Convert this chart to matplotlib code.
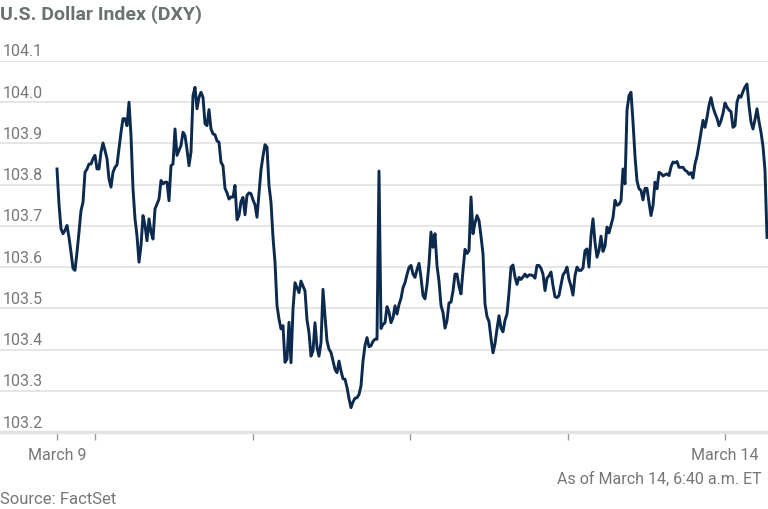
import numpy as np
import matplotlib
matplotlib.use("Agg")
import matplotlib.pyplot as plt
import matplotlib.transforms as mtransforms

# U.S. Dollar Index (DXY), intraday readings, March 9 to March 14
dxy = [
    # March 9 session
    103.838, 103.753, 103.693, 103.681, 103.689, 103.701, 103.672, 103.636, 103.597, 103.592,
    103.636, 103.685, 103.737, 103.757, 103.830, 103.838, 103.850, 103.850, 103.863, 103.871,
    103.838, 103.838, 103.879, 103.901, 103.883, 103.863, 103.814, 103.794, 103.830, 103.842,
    103.848, 103.887, 103.927, 103.960, 103.960, 103.943, 104.000, 103.919, 103.790, 103.717,
    103.676, 103.612, 103.652, 103.725, 103.701, 103.664, 103.717, 103.685, 103.668, 103.741,
    103.753, 103.765, 103.810, 103.802, 103.806, 103.806, 103.761, 103.846, 103.850, 103.935,
    103.871, 103.883,
    103.895, 103.927, 103.919, 103.885, 103.846, 103.879, 104.016, 104.036, 103.984, 104.012,
    104.024, 104.012, 103.948, 103.943, 103.982, 103.935, 103.923, 103.921, 103.906, 103.903,
    103.854, 103.846, 103.791, 103.780, 103.765, 103.770, 103.770, 103.798, 103.715, 103.725,
    103.759, 103.769, 103.727, 103.774, 103.780, 103.778, 103.763, 103.751, 103.721, 103.780,
    103.836, 103.869, 103.897, 103.891, 103.798, 103.757, 103.672, 103.612, 103.507, 103.474,
    103.450, 103.458, 103.369, 103.377, 103.466,
    # March 10 session
    103.368, 103.498, 103.562, 103.550, 103.538, 103.566, 103.554, 103.542, 103.472, 103.441,
    103.384, 103.397, 103.465, 103.405, 103.384, 103.417, 103.546, 103.481, 103.421, 103.401,
    103.393, 103.372, 103.352, 103.344, 103.372, 103.348, 103.329, 103.328, 103.308, 103.281,
    103.259, 103.273, 103.282, 103.283, 103.291, 103.312, 103.372, 103.410, 103.429, 103.407,
    103.409, 103.420, 103.425, 103.425, 103.833, 103.451, 103.461, 103.465, 103.504, 103.491,
    103.465, 103.477, 103.506, 103.486, 103.509, 103.524, 103.550, 103.562, 103.582, 103.599,
    # March 13 session
    103.604, 103.583, 103.575, 103.594, 103.609, 103.575, 103.531, 103.523, 103.557, 103.608,
    103.685, 103.648, 103.681, 103.604, 103.565, 103.507, 103.490, 103.452, 103.470, 103.513,
    103.515, 103.542, 103.583, 103.583, 103.553, 103.535, 103.592, 103.643, 103.633, 103.640,
    103.770, 103.681, 103.707, 103.725, 103.713, 103.675, 103.632, 103.511, 103.480, 103.468,
    103.427, 103.392, 103.414, 103.450, 103.482, 103.452, 103.443, 103.471, 103.486, 103.537,
    103.600, 103.605, 103.576, 103.558, 103.575, 103.570, 103.576, 103.583, 103.576, 103.581,
    103.581, 103.579, 103.573, 103.604, 103.604, 103.597, 103.583, 103.543, 103.573, 103.579,
    103.588, 103.555, 103.528, 103.526, 103.531, 103.557, 103.581, 103.588, 103.600, 103.570,
    103.554, 103.532, 103.579, 103.600, 103.592, 103.592, 103.598, 103.640, 103.644, 103.600,
    103.676, 103.717, 103.660, 103.624, 103.640, 103.675, 103.638, 103.651, 103.697, 103.683,
    103.702, 103.720, 103.762, 103.750, 103.752, 103.761, 103.838, 103.802, 103.980, 104.016,
    104.024, 103.952, 103.869, 103.809, 103.790, 103.786, 103.763, 103.791, 103.791, 103.757,
    # March 14 session
    103.725, 103.749, 103.806, 103.790, 103.830, 103.827, 103.821, 103.824, 103.826, 103.822,
    103.843, 103.855, 103.853, 103.856, 103.842, 103.842, 103.842, 103.835, 103.832, 103.825,
    103.829, 103.816, 103.850, 103.869, 103.897, 103.927, 103.956, 103.939, 103.963, 103.992,
    104.011, 103.988, 103.973, 103.961, 103.943, 103.955, 103.973, 103.998, 103.988, 103.981,
    103.977, 103.939, 103.943, 104.000, 104.016, 104.012, 104.026, 104.037, 104.044, 103.992,
    103.952, 103.935, 103.958, 103.984, 103.953, 103.927, 103.893, 103.834, 103.672,
]

y_ticks = [103.2, 103.3, 103.4, 103.5, 103.6, 103.7, 103.8, 103.9, 104.0, 104.1]
# tick positions in bar units (one bar ~ 18 min, one day ~ 78.75 bars)
x_ticks = [0, 19, 97.75, 176.5, 255.25, 334]
x_labels = ["March 9", "", "", "", "", "March 14"]

plt.rcParams['font.family'] = ['Roboto', 'DejaVu Sans']

fig = plt.figure(figsize=(7.68, 5.10), dpi=100)
ax = fig.add_axes([0.0, 0.151, 1.0, 0.7275])

bars = np.arange(len(dxy))
ax.plot(bars, dxy, color='#0b2a4e', linewidth=2.1)

ax.set_ylim(103.2, 104.1)
ax.set_xlim(-28.5, 355.5)

# gridlines + y labels sitting inside the plot, above each line
ax.set_yticks(y_ticks)
ax.set_yticklabels([])
ax.tick_params(axis='y', length=0)
ax.grid(axis='y', color='#e6e6e6', linewidth=1.4)
ax.set_axisbelow(True)
trans = mtransforms.blended_transform_factory(ax.transAxes, ax.transData)
for v in y_ticks:
    ax.text(0.003, v + 0.006, f"{v:.1f}", transform=trans, ha='left', va='bottom',
            fontsize=11.5, color='#777777')

ax.set_xticks(x_ticks)
ax.set_xticklabels(x_labels)
ax.tick_params(axis='x', length=6, width=1, color='#9a9a9a', labelsize=11.5,
               labelcolor='#777777', pad=5)

for s in ['top', 'right', 'left']:
    ax.spines[s].set_visible(False)
ax.spines['bottom'].set_color('#e3e3e3')
ax.spines['bottom'].set_linewidth(2.5)

fig.text(0.0, 1 - 15 / 510, "U.S. Dollar Index (DXY)", ha='left', va='center',
         fontsize=14, fontweight='bold', color='#6b7270')
fig.text(762 / 768, 1 - 479 / 510, "As of March 14, 6:40 a.m. ET", ha='right', va='center',
         fontsize=11.5, color='#777777')
fig.text(0.0, 1 - 500 / 510, "Source: FactSet", ha='left', va='center',
         fontsize=12, color='#777777')

fig.savefig("out.png", dpi=100)
